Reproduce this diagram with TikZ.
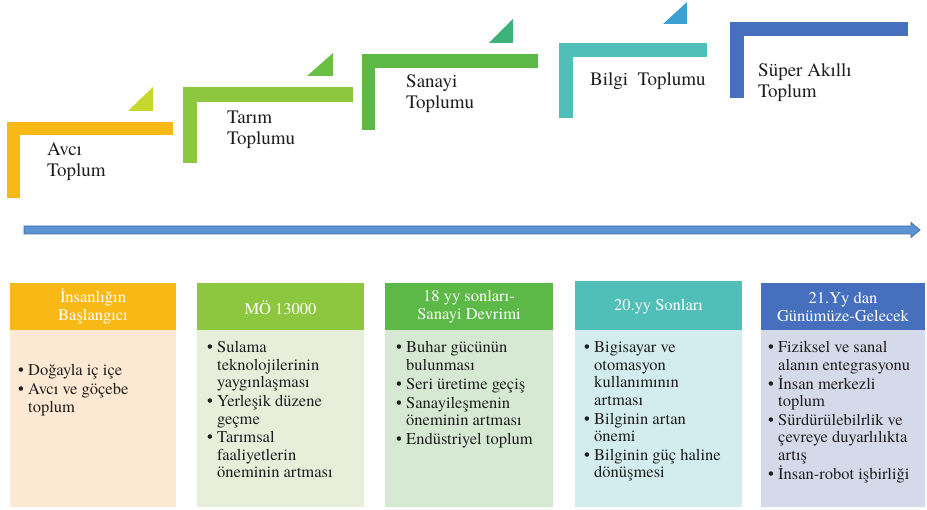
\documentclass[tikz,border=0pt]{standalone}
\usepackage{fontspec}
\setmainfont{texgyretermes}[Extension=.otf, UprightFont=*-regular, BoldFont=*-bold, ItalicFont=*-italic, BoldItalicFont=*-bolditalic]
\newfontfamily\tnr{texgyretermes}[Extension=.otf, UprightFont=*-regular, BoldFont=*-bold]
\definecolor{cOrange}{HTML}{F8B916}
\definecolor{cLime}{HTML}{8DC63F}
\definecolor{cGreen}{HTML}{5CB947}
\definecolor{cTeal}{HTML}{4FBFB8}
\definecolor{cBlue}{HTML}{4670BE}
\definecolor{tOne}{HTML}{C8D72E}
\definecolor{tTwo}{HTML}{6CBF45}
\definecolor{tThree}{HTML}{3EB27B}
\definecolor{tFour}{HTML}{3A9FD1}
\definecolor{bOrange}{HTML}{FDE9D3}
\definecolor{bLime}{HTML}{E7EFDB}
\definecolor{bGreen}{HTML}{D6EAD3}
\definecolor{bTeal}{HTML}{D3ECEE}
\definecolor{bBlue}{HTML}{D5DAEA}
\definecolor{arrFill}{HTML}{5B93D3}
\definecolor{arrDraw}{HTML}{41719C}
\definecolor{txt}{HTML}{1E1E1E}
\newcommand\myitem[1]{\par\hangindent=10pt\hangafter=1\noindent\makebox[10pt][l]{•}#1\par}
\tikzset{
  toplabel/.style={anchor=base west, inner sep=0pt, text=txt, font=\tnr\fontsize{19}{20.5}\selectfont},
  headtext/.style={inner sep=0pt, text=white, align=center, font=\tnr\fontsize{16.5}{18}\selectfont},
  bodytext/.style={anchor=base west, inner sep=0pt, text=txt, font=\tnr\fontsize{16.5}{17.4}\selectfont},
}
\newcommand\bodybox[1]{\parbox[t]{175pt}{\setlength\parskip{1.5pt}#1}}
\newcommand\labelbox[1]{\parbox[t]{160pt}{\raggedright #1}}
\begin{document}
\begin{tikzpicture}[x=1pt,y=-1pt]
\useasboundingbox (0,0) rectangle (927,510);
% step shapes
\fill[cOrange] (7,122) rectangle (173,135);
\fill[cOrange] (7,122) rectangle (20,198);
\fill[tOne] (128,111) -- (153,111) -- (153,87) -- cycle;
\fill[cLime] (183,87) rectangle (353,102);
\fill[cLime] (183,87) rectangle (197,163);
\fill[tTwo] (307,76) -- (333,76) -- (333,53) -- cycle;
\fill[cGreen] (362,54) rectangle (538,68);
\fill[cGreen] (362,54) rectangle (375,130);
\fill[tThree] (489,43) -- (513,43) -- (513,19) -- cycle;
\fill[cTeal] (559,43) rectangle (707,57);
\fill[cTeal] (559,43) rectangle (573,118);
\fill[tFour] (663,24) -- (687,24) -- (687,2) -- cycle;
\fill[cBlue] (730,22) rectangle (908,36);
\fill[cBlue] (730,22) rectangle (744,98);
% step labels
\node[toplabel] (s1) at (47,156) {\labelbox{Avcı\\Toplum}};
\node[toplabel] (s2) at (227,124) {\labelbox{Tarım\\Toplumu}};
\node[toplabel] (s3) at (406,88) {\labelbox{Sanayi\\Toplumu}};
\node[toplabel] (s4) at (590,86) {Bilgi\ \ Toplumu};
\node[toplabel] (s5) at (758,77) {\labelbox{Süper Akıllı\\Toplum}};
% timeline arrow
\filldraw[fill=arrFill, draw=arrDraw, line width=0.8pt] (24,226) -- (911,226) -- (911,222.5) -- (920,230) -- (911,237.5) -- (911,234) -- (24,234) -- cycle;
% boxes
\fill[bOrange] (10,330) rectangle (176,507);
\fill[cOrange] (10,283) rectangle (176,330);
\fill[bLime] (197,330) rectangle (364,507);
\fill[cLime] (197,283) rectangle (364,330);
\fill[bGreen] (385,330) rectangle (553,507);
\fill[cGreen] (385,283) rectangle (553,330);
\fill[bTeal] (575,330) rectangle (742,507);
\fill[cTeal] (575,281) rectangle (742,330);
\fill[bBlue] (761,330) rectangle (925,507);
\fill[cBlue] (761,283) rectangle (925,330);
% headers
\node[headtext] (h1) at (93,306.5) {İnsanlığın\\Başlangıcı};
\node[headtext] (h2) at (280.5,307.5) {MÖ 13000};
\node[headtext] (h3) at (469,306.5) {18 yy sonları-\\Sanayi Devrimi};
\node[headtext] (h4) at (658.5,306.5) {20.yy Sonları};
\node[headtext] (h5) at (843,306.5) {21.Yy dan\\Günümüze-Gelecek};
% bodies
\node[bodytext] (b1) at (18,376) {\bodybox{\myitem{Doğayla iç içe}\myitem{Avcı ve göçebe\newline toplum}}};
\node[bodytext] (b2) at (207,353) {\bodybox{\myitem{Sulama\newline teknolojilerinin\newline yaygınlaşması}\myitem{Yerleşik düzene\newline geçme}\myitem{Tarımsal\newline faaliyetlerin\newline öneminin artması}}};
\node[bodytext] (b3) at (396,353) {\bodybox{\myitem{Buhar gücünün\newline bulunması}\myitem{Seri üretime geçiş}\myitem{Sanayileşmenin\newline öneminin artması}\myitem{Endüstriyel toplum}}};
\node[bodytext] (b4) at (584,353) {\bodybox{\myitem{Bigisayar ve\newline otomasyon\newline kullanımının\newline artması}\myitem{Bilginin artan\newline önemi}\myitem{Bilginin güç haline\newline dönüşmesi}}};
\node[bodytext] (b5) at (768,353) {\bodybox{\myitem{Fiziksel ve sanal\newline alanın entegrasyonu}\myitem{İnsan merkezli\newline toplum}\myitem{Sürdürülebilrlik ve\newline çevreye duyarlılıkta\newline artış}\myitem{İnsan-robot işbirliği}}};
\end{tikzpicture}
\end{document}
